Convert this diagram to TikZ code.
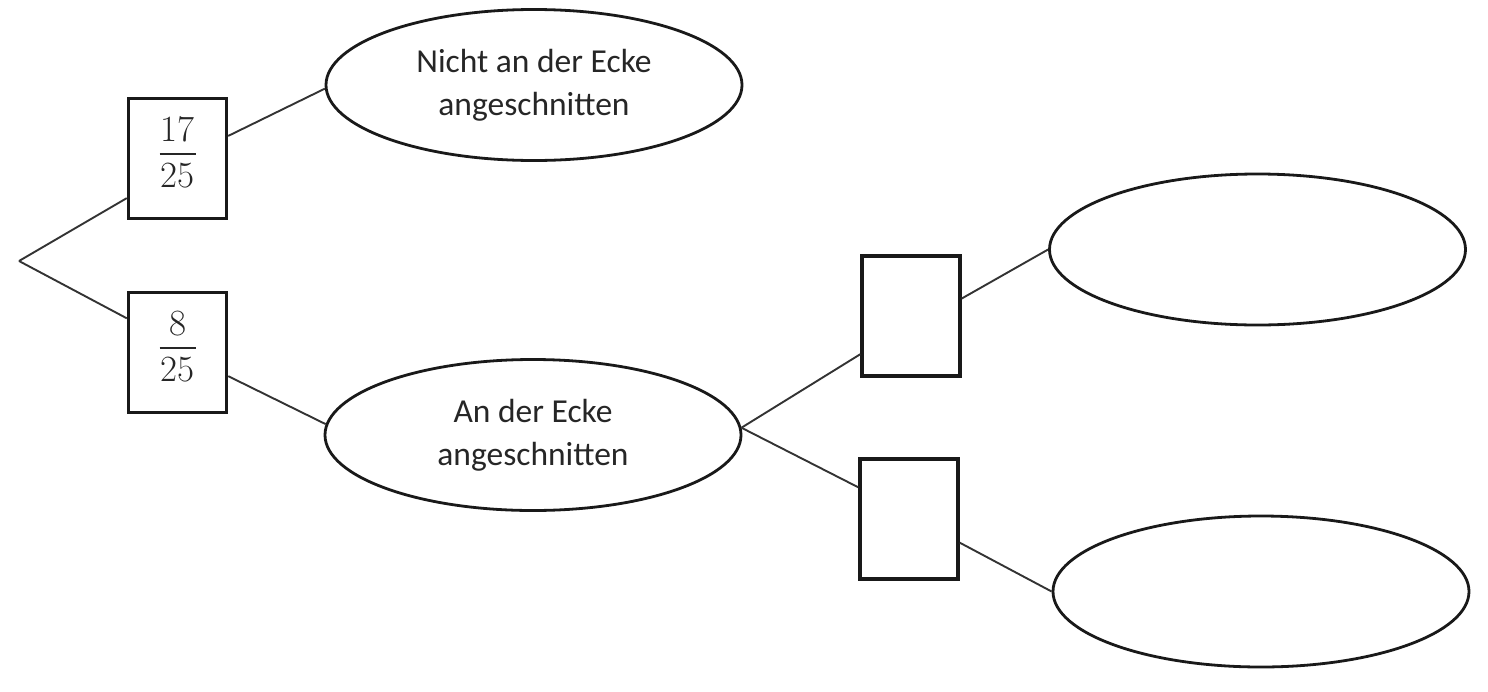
\documentclass[tikz,border=0pt]{standalone}
\usepackage{fontspec}
\setmainfont{Carlito}
\newfontfamily\fracfont{Latin Modern Roman}
\usetikzlibrary{shapes.geometric}
\newcommand{\pfrac}[2]{\vbox{\hbox to 36pt{\hss #1\hss}\kern 11pt\hrule height 1.8pt\kern 8pt\hbox to 36pt{\hss #2\hss}\kern 12pt}}
\begin{document}
\begin{tikzpicture}[x=1pt,y=-1pt,
  probbox/.style={draw=black!90, line width=3.4pt, rectangle, minimum width=98pt, minimum height=120pt, inner sep=0pt, text=black!85, font=\fracfont\fontsize{37}{40}\selectfont},
  outcome/.style={draw=black!90, line width=2.8pt, ellipse, minimum width=416pt, minimum height=151pt, inner sep=0pt, align=center, text=black!85, font=\fontsize{33.5}{43}\selectfont},
  branch/.style={draw=black!80, line width=1.9pt}]
\useasboundingbox (0,0) rectangle (1488,691);
\coordinate (root) at (19,261);
\node[probbox] (b1) at (177.5,158.5) {\pfrac{17}{25}};
\node[probbox] (b2) at (177.5,352.5) {\pfrac{8}{25}};
\node[outcome] (e1) at (534,85) {Nicht an der Ecke\\angeschnitten};
\node[outcome] (e2) at (533,435) {An der Ecke\\angeschnitten};
\node[probbox] (b3) at (911,316) {};
\node[probbox] (b4) at (909,519) {};
\node[outcome] (e3) at (1257.5,249.5) {};
\node[outcome] (e4) at (1261,591.5) {};
\draw[branch] (root) -- (b1.218);
\draw[branch] (root) -- (b2.146);
\draw[branch] (b1.24) -- (e1.181);
\draw[branch] (b2.335) -- (e2.177);
\draw[branch] (e2.2) -- (b3.217);
\draw[branch] (e2.2) -- (b4.148);
\draw[branch] (b3.19) -- (e3.west);
\draw[branch] (b4.335) -- (e4.west);
\end{tikzpicture}
\end{document}
